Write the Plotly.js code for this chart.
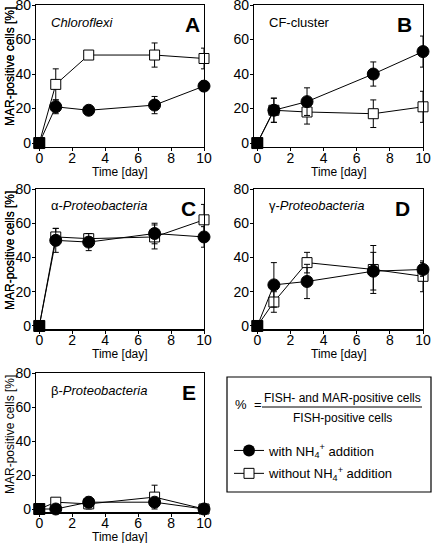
<!DOCTYPE html>
<html>
<head>
<meta charset="utf-8">
<script src="https://cdn.plot.ly/plotly-3.0.1.min.js"></script>
<style>
html,body{margin:0;padding:0;background:#fff;}
#chart{width:434px;height:543px;}
</style>
</head>
<body>
<div id="chart"></div>
<script>
// ---- data ----
var days = [0, 1, 3, 7, 10];
var panelNames = ['Chloroflexi', 'CF-cluster', 'α-Proteobacteria', 'γ-Proteobacteria', 'β-Proteobacteria'];
var panelLetters = ['A', 'B', 'C', 'D', 'E'];
var withNH4 = [
  [0, 21, 19, 22, 33],
  [0, 19, 24, 40, 53],
  [0, 50, 49, 54, 52],
  [0, 24, 26, 32, 33],
  [0, 0, 4, 4, 0]
];
var withNH4Err = [
  [0, 4, 2, 5, 3],
  [0, 7, 8, 7, 9],
  [0, 7, 5, 6, 6],
  [0, 13, 10, 11, 4],
  [0, 0, 3, 2, 0]
];
var withoutNH4 = [
  [0, 34, 51, 51, 49],
  [0, 19, 18, 17, 21],
  [0, 52, 51, 52, 62],
  [0, 14, 37, 33, 29],
  [0, 4, 3, 7, 0]
];
var withoutNH4Err = [
  [0, 9, 1, 7, 6],
  [0, 7, 7, 8, 9],
  [0, 5, 3, 7, 9],
  [0, 6, 6, 14, 9],
  [0, 1, 3, 7, 0]
];
var xTicks = [0, 2, 4, 6, 8, 10];
var yTicks = [0, 20, 40, 60, 80];
var xTitle = 'Time [day]';
var yTitle = 'MAR-positive cells [%]';
var legendWith = 'with NH<sub>4</sub><sup>+</sup> addition';
var legendWithout = 'without NH<sub>4</sub><sup>+</sup> addition';
var fracNum = 'FISH- and MAR-positive cells';
var fracDen = 'FISH-positive cells';

// ---- layout geometry (pixels) ----
var W = 434, H = 543;
var boxes = [
  {x0: 36, x1: 204, y0: 5, y1: 146.5, lg: 2},
  {x0: 254, x1: 423, y0: 5, y1: 146.5, lg: 9},
  {x0: 36, x1: 204, y0: 189, y1: 329.4, lg: 6},
  {x0: 254, x1: 423, y0: 189, y1: 329.4, lg: 11},
  {x0: 36, x1: 204, y0: 373, y1: 512.4, lg: 6}
];
function px(x) { return x / W; }
function py(y) { return 1 - y / H; }

var FONT = 'Liberation Sans, Arial, sans-serif';
var traces = [];
var layout = {
  width: W, height: H,
  margin: {l: 0, r: 0, t: 0, b: 0},
  paper_bgcolor: '#fff', plot_bgcolor: '#fff',
  font: {family: FONT, color: '#000', size: 13},
  showlegend: true,
  legend: {
    x: px(229), y: py(435.5), xanchor: 'left', yanchor: 'top',
    bgcolor: 'rgba(0,0,0,0)', borderwidth: 0,
    font: {family: FONT, size: 13, color: '#000'},
    traceorder: 'grouped', tracegroupgap: 3
  },
  annotations: [],
  shapes: []
};

function ann(x, y, text, size, extra) {
  var a = {xref: 'paper', yref: 'paper', x: px(x), y: py(y), xanchor: 'center', yanchor: 'middle',
           showarrow: false, text: text, font: {family: FONT, size: size, color: '#000'}};
  if (extra) { for (var k in extra) { a[k] = extra[k]; } }
  layout.annotations.push(a);
}

boxes.forEach(function (b, i) {
  var n = i + 1;
  var xa = 'xaxis' + (n === 1 ? '' : n), ya = 'yaxis' + (n === 1 ? '' : n);
  var xr = 'x' + (n === 1 ? '' : n), yr = 'y' + (n === 1 ? '' : n);
  layout[xa] = {
    domain: [px(b.x0), px(b.x1)], anchor: yr, range: [-0.2, 10],
    tickvals: xTicks, ticks: 'outside', ticklen: 3, tickwidth: 1, tickcolor: '#000',
    showline: true, linecolor: '#000', linewidth: 1.2, mirror: true,
    showgrid: false, zeroline: false, ticklabeloverflow: 'allow', ticklabelstandoff: -5,
    tickfont: {size: 14, family: FONT}
  };
  layout[ya] = {
    domain: [py(b.y1), py(b.y0)], anchor: xr, range: [-2, 80],
    tickvals: yTicks, ticks: 'outside', ticklen: 3, tickwidth: 1, tickcolor: '#000',
    showline: true, linecolor: '#000', linewidth: 1.2, mirror: true,
    showgrid: false, zeroline: false, ticklabeloverflow: 'allow', ticklabelstandoff: -2,
    tickfont: {size: 14, family: FONT}
  };
  var sq = {
    x: days, y: withoutNH4[i], xaxis: xr, yaxis: yr, type: 'scatter',
    mode: 'lines+markers', cliponaxis: false, showlegend: false,
    line: {color: '#000', width: 1},
    marker: {symbol: 'square', size: 10, opacity: 1,
             color: days.map(function (d) { return d === 0 ? '#000' : '#fff'; }),
             line: {color: '#000', width: 1}},
    error_y: {type: 'data', array: withoutNH4Err[i], visible: true, color: '#000', thickness: 1, width: 3}
  };
  var ci = {
    x: days, y: withNH4[i], xaxis: xr, yaxis: yr, type: 'scatter',
    mode: 'lines+markers', cliponaxis: false, showlegend: false,
    line: {color: '#000', width: 1},
    marker: {symbol: days.map(function (d) { return d === 0 ? 'square' : 'circle'; }),
             size: days.map(function (d) { return d === 0 ? 11 : 12; }), color: '#000', opacity: 1,
             line: {color: '#000', width: 1}},
    error_y: {type: 'data', array: withNH4Err[i], visible: true, color: '#000', thickness: 1, width: 3}
  };
  traces.push(sq, ci);

  // axis titles
  ann((b.x0 + b.x1) / 2, b.y1 + 25, xTitle, 12);
  ann(10, b.y0 + 62, yTitle, 12, {textangle: -90});

  // panel name
  var name = panelNames[i];
  var txt;
  if (name.indexOf('-Proteobacteria') > 0) {
    txt = name.charAt(0) + '-<i>Proteobacteria</i>';
  } else if (name === 'Chloroflexi') {
    txt = '<i>' + name + '</i>';
  } else {
    txt = name;
  }
  ann(b.x0 + 13, b.y0 + 17, txt, 13, {xanchor: 'left'});
  ann(b.x1 - b.lg, b.y0 + 19, '<b>' + panelLetters[i] + '</b>', 21, {xanchor: 'right'});
});

// legend entries (legend-only traces)
traces.push({
  x: [null], y: [null], type: 'scatter', mode: 'lines+markers', name: legendWith,
  legendgroup: 'a', showlegend: true,
  line: {color: '#000', width: 1}, marker: {symbol: 'circle', size: 12, color: '#000'}
});
traces.push({
  x: [null], y: [null], type: 'scatter', mode: 'lines+markers', name: legendWithout,
  legendgroup: 'b', showlegend: true,
  line: {color: '#000', width: 1}, marker: {symbol: 'square', size: 10, color: '#fff', line: {color: '#000', width: 1}}
});

// legend box and formula
layout.shapes.push({type: 'rect', xref: 'paper', yref: 'paper',
  x0: px(227), x1: px(431), y0: py(492), y1: py(377), line: {color: '#000', width: 1.2}, fillcolor: 'rgba(0,0,0,0)'});
layout.shapes.push({type: 'line', xref: 'paper', yref: 'paper',
  x0: px(262), x1: px(422), y0: py(407), y1: py(407), line: {color: '#000', width: 1}});
ann(241, 404, '%', 13);
ann(258, 404, '=', 13);
ann(342, 398, fracNum, 12);
ann(342, 418, fracDen, 12);

Plotly.newPlot('chart', traces, layout, {staticPlot: true, displayModeBar: false});
</script>
</body>
</html>
